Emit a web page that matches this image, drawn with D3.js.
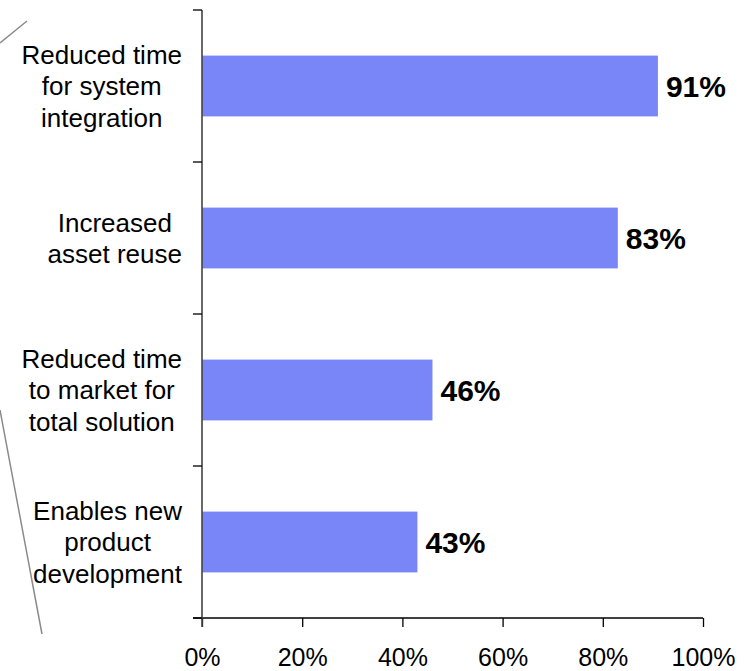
<!DOCTYPE html>
<html>
<head>
<meta charset="utf-8">
<script src="https://cdn.jsdelivr.net/npm/d3@7"></script>
<style>
  body { margin: 0; background: #fff; }
  svg { display: block; font-family: "Liberation Sans", Arial, sans-serif; }
</style>
</head>
<body>
<div id="chart"></div>
<script>
// benefit categories, top to bottom (lines of each label)
const categories = [
    ["Reduced time", "for system", "integration"],
    ["Increased", "asset reuse"],
    ["Reduced time", "to market for", "total solution"],
    ["Enables new", "product", "development"]
];
const values = [91, 83, 46, 43];
const xTicks = [0, 20, 40, 60, 80, 100];

const width = 753, height = 671;
const plotLeft = 202, plotRight = 703, plotTop = 10, plotBottom = 618;

const svg = d3.select("#chart")
    .append("svg")
    .attr("width", width)
    .attr("height", height);

const keys = categories.map(function(c, i) { return i; });

const x = d3.scaleLinear().domain([0, 100]).range([plotLeft, plotRight]);
const y = d3.scaleBand().domain(keys).range([plotTop, plotBottom])
    .paddingInner(0.6).paddingOuter(0.3);
// no padding, for the tick marks between categories
const yb = d3.scaleBand().domain(keys).range([plotTop, plotBottom]);

// decorative grey lines on the left
svg.append("line")
    .attr("x1", 0).attr("y1", 43).attr("x2", 27).attr("y2", 21)
    .attr("stroke", "#8a8a8a").attr("stroke-width", 1.5);
svg.append("line")
    .attr("x1", 0).attr("y1", 410).attr("x2", 42).attr("y2", 634)
    .attr("stroke", "#8a8a8a").attr("stroke-width", 1.5);

// bars
svg.selectAll("rect.bar")
    .data(values)
    .enter()
    .append("rect")
    .attr("class", "bar")
    .attr("x", x(0))
    .attr("y", function(d, i) { return y(i); })
    .attr("width", function(d) { return x(d) - x(0); })
    .attr("height", y.bandwidth())
    .attr("fill", "#7986f8");

// value labels
svg.selectAll("text.val")
    .data(values)
    .enter()
    .append("text")
    .attr("class", "val")
    .attr("x", function(d) { return x(d) + 8; })
    .attr("y", function(d, i) { return y(i) + y.bandwidth() / 2 + 11; })
    .style("font-size", "30px")
    .style("font-weight", "bold")
    .text(function(d) { return d + "%"; });

// category labels: lines centred within a block whose right edge is at 182
const lineH = 31.5;
categories.forEach(function(lines, i) {
    const cy = yb(i) + yb.bandwidth() / 2;
    const g = svg.append("g");
    const texts = lines.map(function(l, j) {
        return g.append("text")
            .attr("y", cy + (j - (lines.length - 1) / 2) * lineH + 9.3)
            .attr("text-anchor", "middle")
            .style("font-size", "26px")
            .text(l);
    });
    const maxW = d3.max(texts, function(t) { return t.node().getComputedTextLength(); });
    texts.forEach(function(t) { t.attr("x", 182 - maxW / 2); });
});

// x-axis
const xAxis = svg.append("g")
    .attr("transform", "translate(0," + plotBottom + ")")
    .call(d3.axisBottom(x).tickValues(xTicks).tickSize(9).tickSizeOuter(0)
        .tickFormat(function(d) { return d + "%"; }));
xAxis.select(".domain").remove();
xAxis.append("line")
    .attr("x1", plotLeft - 9).attr("x2", plotRight)
    .attr("stroke", "#000").attr("stroke-width", 1.3);
xAxis.selectAll(".tick line").attr("stroke", "#000").attr("stroke-width", 1.3);
xAxis.selectAll(".tick text")
    .attr("y", 48).attr("dy", 0)
    .attr("fill", "#000")
    .style("font-size", "25px")
    .style("font-family", "'Liberation Sans', Arial, sans-serif");

// y-axis
svg.append("line")
    .attr("x1", plotLeft).attr("x2", plotLeft)
    .attr("y1", plotTop).attr("y2", plotBottom + 9)
    .attr("stroke", "#444").attr("stroke-width", 1.6);
const yTickPos = keys.map(function(k) { return yb(k); }).concat([plotBottom]);
svg.selectAll("line.ytick")
    .data(yTickPos)
    .enter()
    .append("line")
    .attr("class", "ytick")
    .attr("x1", plotLeft - 9).attr("x2", plotLeft)
    .attr("y1", function(d) { return d; })
    .attr("y2", function(d) { return d; })
    .attr("stroke", "#000").attr("stroke-width", 1.3);
</script>
</body>
</html>
